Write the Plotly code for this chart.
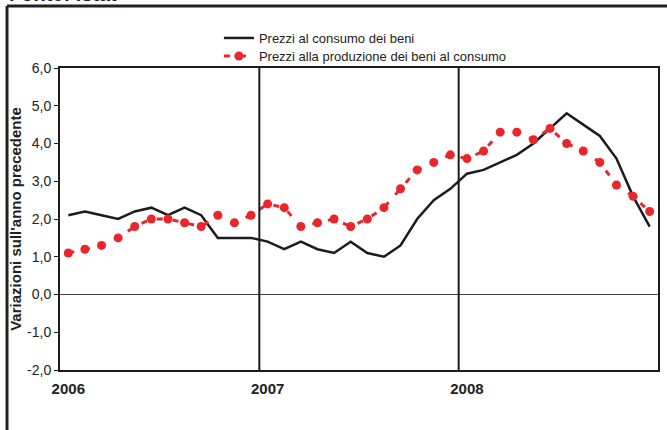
import plotly.graph_objects as go

years = ["2006", "2007", "2008"]
consumo = [2.1, 2.2, 2.1, 2.0, 2.2, 2.3, 2.1, 2.3, 2.1, 1.5, 1.5, 1.5,
           1.4, 1.2, 1.4, 1.2, 1.1, 1.4, 1.1, 1.0, 1.3, 2.0, 2.5, 2.8,
           3.2, 3.3, 3.5, 3.7, 4.0, 4.4, 4.8, 4.5, 4.2, 3.6, 2.6, 1.8]
produzione = [1.1, 1.2, 1.3, 1.5, 1.8, 2.0, 2.0, 1.9, 1.8, 2.1, 1.9, 2.1,
              2.4, 2.3, 1.8, 1.9, 2.0, 1.8, 2.0, 2.3, 2.8, 3.3, 3.5, 3.7,
              3.6, 3.8, 4.3, 4.3, 4.1, 4.4, 4.0, 3.8, 3.5, 2.9, 2.6, 2.2]
yticks = [-2, -1, 0, 1, 2, 3, 4, 5, 6]
ytick_labels = ["-2,0", "-1,0", "0,0", "1,0", "2,0", "3,0", "4,0", "5,0", "6,0"]

months = list(range(len(consumo)))
FONT = "Arial, Liberation Sans, Helvetica, sans-serif"

fig = go.Figure()
fig.add_trace(go.Scatter(
    x=months, y=consumo, mode="lines", name="Prezzi al consumo dei beni",
    line=dict(color="#1c1c1c", width=2.5), legend="legend"))
fig.add_trace(go.Scatter(
    x=months, y=produzione, mode="lines+markers",
    name="Prezzi alla produzione dei beni al consumo",
    line=dict(color="#e8262c", width=3, dash="6px,10px"),
    marker=dict(color="#e8262c", size=9), legend="legend2"))

shapes = []
for k in range(1, len(years)):
    xv = 12 * k - 0.5
    shapes.append(dict(type="line", xref="x", yref="paper", x0=xv, x1=xv,
                       y0=0, y1=1, line=dict(color="#1c1c1c", width=2)))
# outer frame (left and top)
shapes.append(dict(type="line", xref="paper", yref="paper", x0=-0.0886, x1=-0.0886,
                   y0=1.205, y1=-0.25, line=dict(color="#222", width=3)))
shapes.append(dict(type="line", xref="paper", yref="paper", x0=-0.0886, x1=1.1,
                   y0=1.205, y1=1.205, line=dict(color="#222", width=3)))

leg_common = dict(xanchor="left", yanchor="middle", yref="container",
                  bgcolor="rgba(0,0,0,0)", font=dict(size=13, color="#222"),
                  itemwidth=30)

fig.update_layout(
    width=667, height=430,
    margin=dict(l=60, r=9, t=68, b=60, autoexpand=False),
    paper_bgcolor="white", plot_bgcolor="white",
    font=dict(family=FONT, color="#222", size=13),
    showlegend=True,
    legend=dict(x=0.2657, y=1 - 38 / 430, **leg_common),
    legend2=dict(x=0.2657, y=1 - 56 / 430, **leg_common),
    shapes=shapes,
    annotations=[dict(text="<b>Fonte: Istat</b>", xref="paper", yref="paper",
                      x=-0.0886, y=1.202, xanchor="left", yanchor="bottom",
                      showarrow=False, font=dict(size=20, color="#222"))],
)
fig.update_xaxes(
    range=[-0.5, len(consumo) - 0.5], automargin=False,
    tickmode="array", tickvals=[12 * k for k in range(len(years))],
    ticktext=["<b>%s</b>" % y for y in years],
    ticks="", showgrid=False, zeroline=False, ticklabelstandoff=4,
    showline=True, mirror=True, linecolor="#1c1c1c", linewidth=2,
    tickfont=dict(size=15, color="#222"),
)
fig.update_yaxes(
    range=[-2, 6], automargin=False, tickmode="array", tickvals=yticks, ticktext=ytick_labels,
    ticks="outside", ticklen=4, tickcolor="#1c1c1c", tickwidth=1,
    showgrid=False, zeroline=True, zerolinecolor="#444", zerolinewidth=1,
    showline=True, mirror=True, linecolor="#1c1c1c", linewidth=2,
    title=dict(text="<b>Variazioni sull'anno precedente</b>", font=dict(size=15, color="#222"), standoff=2),
    tickfont=dict(size=14, color="#222"),
)

fig.write_html("out.html", config={"displayModeBar": False},
               post_script="document.body.style.margin='0px';")
